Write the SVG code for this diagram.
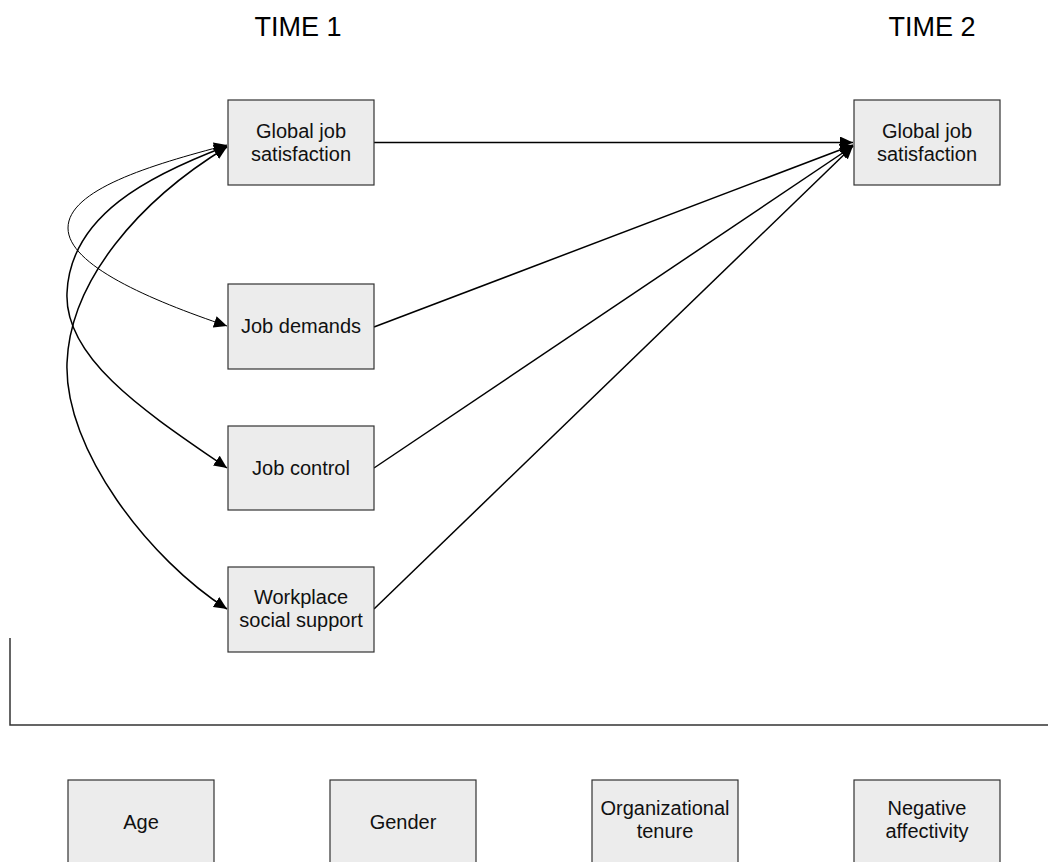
<svg xmlns="http://www.w3.org/2000/svg" width="1048" height="862" viewBox="0 0 1048 862">
<style>
.box{fill:#ececec;stroke:#333;stroke-width:1.2}
.t{font-family:"Liberation Sans",Arial,sans-serif;font-size:20px;fill:#111;text-anchor:middle}
.h{font-family:"Liberation Sans",Arial,sans-serif;font-size:27px;fill:#000;text-anchor:middle}
.ln{fill:none;stroke:#000;stroke-width:1.5}
.thin{fill:none;stroke:#000;stroke-width:1}
.frame{fill:none;stroke:#333;stroke-width:1.5}
</style>
<defs>
<marker id="ah" markerUnits="userSpaceOnUse" markerWidth="14" markerHeight="12" viewBox="0 0 14 12" refX="13" refY="6" orient="auto-start-reverse">
<path d="M0,0 L13,6 L0,12 z" fill="#000"/>
</marker>
</defs>
<rect width="1048" height="862" fill="#fff"/>
<text class="h" x="298" y="36">TIME 1</text>
<text class="h" x="932" y="36">TIME 2</text>
<g id="connectors">
<path class="ln" d="M374,142.5 L853,142.5" marker-end="url(#ah)"/>
<path class="ln" d="M374,327 L853,145" marker-end="url(#ah)"/>
<path class="ln" d="M374,468 L853,146" marker-end="url(#ah)"/>
<path class="ln" d="M374,609 L853,146" marker-end="url(#ah)"/>
<path class="thin" d="M227,145 C150,165 68,190 68,228 C68,265 150,300 227,326" marker-start="url(#ah)" marker-end="url(#ah)"/>
<path class="ln" d="M227,146 C150,175 70,215 67,293 C64,360 150,415 227,468" marker-start="url(#ah)" marker-end="url(#ah)"/>
<path class="ln" d="M227,147 C140,200 70,280 67,363 C64,450 150,560 227,609" marker-start="url(#ah)" marker-end="url(#ah)"/>
<path class="frame" d="M10,638 L10,725 L1048,725"/>
</g>
<g id="gjs1"><rect class="box" x="228" y="100" width="146" height="85"/><text class="t" x="301" y="138">Global job</text><text class="t" x="301" y="161">satisfaction</text></g>
<g id="demands"><rect class="box" x="228" y="284" width="146" height="85"/><text class="t" x="301" y="333">Job demands</text></g>
<g id="control"><rect class="box" x="228" y="426" width="146" height="84"/><text class="t" x="301" y="475">Job control</text></g>
<g id="support"><rect class="box" x="228" y="567" width="146" height="85"/><text class="t" x="301" y="604">Workplace</text><text class="t" x="301" y="627">social support</text></g>
<g id="gjs2"><rect class="box" x="854" y="100" width="146" height="85"/><text class="t" x="927" y="138">Global job</text><text class="t" x="927" y="161">satisfaction</text></g>
<g id="age"><rect class="box" x="68" y="780" width="146" height="90"/><text class="t" x="141" y="829">Age</text></g>
<g id="gender"><rect class="box" x="330" y="780" width="146" height="90"/><text class="t" x="403" y="829">Gender</text></g>
<g id="tenure"><rect class="box" x="592" y="780" width="146" height="90"/><text class="t" x="665" y="815">Organizational</text><text class="t" x="665" y="838">tenure</text></g>
<g id="na"><rect class="box" x="854" y="780" width="146" height="90"/><text class="t" x="927" y="815">Negative</text><text class="t" x="927" y="838">affectivity</text></g>
</svg>
